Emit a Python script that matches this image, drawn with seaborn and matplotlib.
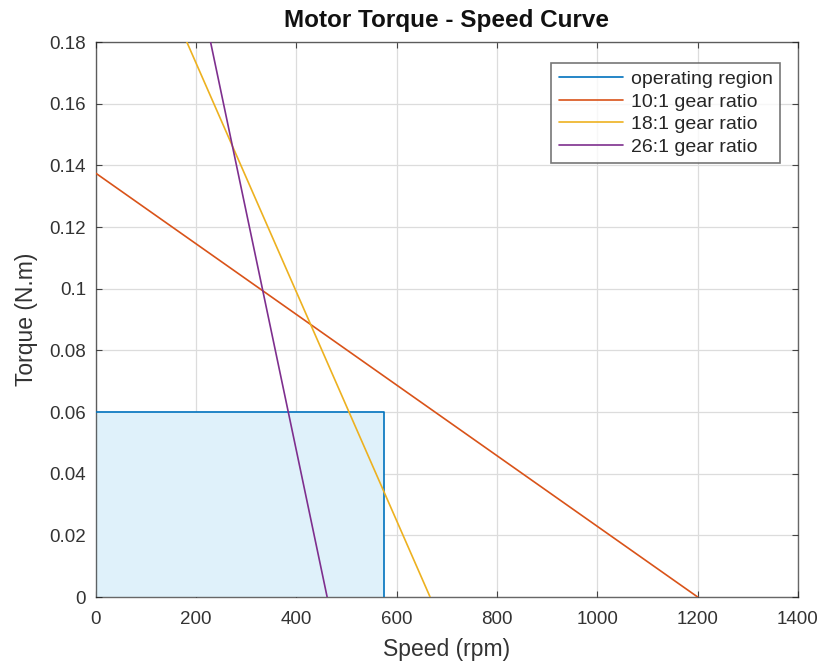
import matplotlib
matplotlib.use("Agg")
import matplotlib.pyplot as plt
import seaborn as sns
import pandas as pd

# ---- data ----
series_names = ["operating region", "10:1 gear ratio", "18:1 gear ratio", "26:1 gear ratio"]
region_speed = [0, 575, 575]
region_torque = [0.06, 0.06, 0]
g10_speed = [0, 1200]
g10_torque = [0.1375, 0]
g18_speed = [0, 666.7]
g18_torque = [0.2475, 0]
g26_speed = [0, 461.5]
g26_torque = [0.3575, 0]
x_ticks = [0, 200, 400, 600, 800, 1000, 1200, 1400]
y_ticks = [0, 0.02, 0.04, 0.06, 0.08, 0.1, 0.12, 0.14, 0.16, 0.18]
y_tick_labels = ["0", "0.02", "0.04", "0.06", "0.08", "0.1", "0.12", "0.14", "0.16", "0.18"]

colors = ["#0072BD", "#D95319", "#EDB120", "#7E2F8E"]

frames = []
for name, sp, tq in zip(series_names,
                        [region_speed, g10_speed, g18_speed, g26_speed],
                        [region_torque, g10_torque, g18_torque, g26_torque]):
    frames.append(pd.DataFrame({"speed": sp, "torque": tq, "series": name}))
df = pd.concat(frames, ignore_index=True)

sns.set_style("white")
plt.rcParams["font.family"] = ["Liberation Sans", "DejaVu Sans"]

fig = plt.figure(figsize=(8.22, 6.64), dpi=100)
ax = fig.add_axes([0.1163, 0.1009, 0.8545, 0.8358])

# fill of operating region
ax.fill_between([region_speed[0], region_speed[1]], 0, region_torque[0],
                color="#DFF1FA", zorder=1, linewidth=0)

sns.lineplot(data=df, x="speed", y="torque", hue="series", hue_order=series_names,
             palette=colors, sort=False, estimator=None, units="series",
             linewidth=1.2, ax=ax, zorder=3)

ax.set_xlim(0, 1400)
ax.set_ylim(0, 0.18)
ax.set_xticks(x_ticks)
ax.set_xticklabels([str(t) for t in x_ticks])
ax.set_yticks(y_ticks)
ax.set_yticklabels(y_tick_labels)
ax.grid(True, color="#DCDCDC", linewidth=0.9, zorder=0)
ax.set_axisbelow(True)
for s in ax.spines.values():
    s.set_color("#262626")
    s.set_linewidth(1.0)
    s.set_alpha(0.7)
ax.tick_params(direction="in", length=4, width=0.8, colors="#444444",
               labelcolor="#333333", labelsize=13.5, top=True, right=True,
               labeltop=False, labelright=False, bottom=True, left=True)
ax.tick_params(axis="x", pad=10)
ax.tick_params(axis="y", pad=7)

ax.set_xlabel("Speed (rpm)", fontsize=16.5, color="#333333", labelpad=7)
ax.set_ylabel("Torque (N.m)", fontsize=16.5, color="#333333", labelpad=8)
ax.set_title("Motor Torque - Speed Curve", fontsize=17.5, fontweight="bold", pad=11,
             color="#111111")

handles, labels = ax.get_legend_handles_labels()
leg = ax.legend(handles, labels, loc="upper right", bbox_to_anchor=(0.9745, 0.962),
                fontsize=14, frameon=True, fancybox=False, handlelength=3.3,
                handletextpad=0.4, labelspacing=0.25, borderpad=0.38, borderaxespad=0)
leg.get_frame().set_edgecolor("#555555")
leg.get_frame().set_linewidth(1.2)
for t in leg.get_texts():
    t.set_color("#262626")
for h in leg.get_lines():
    h.set_linewidth(1.2)

fig.savefig("out.png", dpi=100, facecolor="white")
